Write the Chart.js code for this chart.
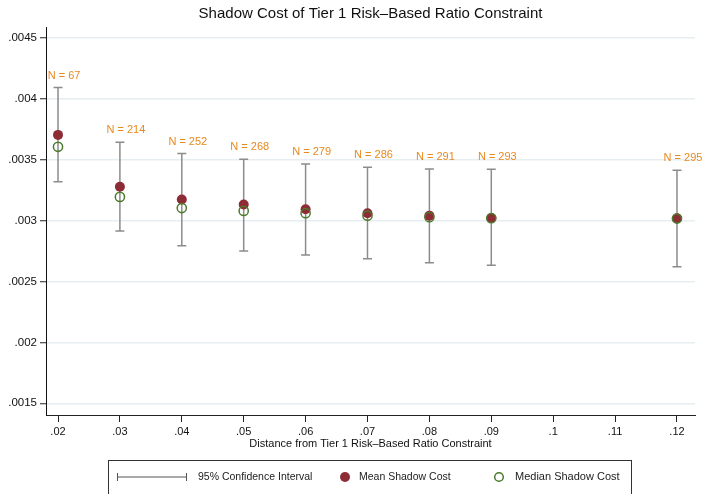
<!DOCTYPE html>
<html>
<head>
<meta charset="utf-8">
<script src="https://cdn.jsdelivr.net/npm/chart.js@4.4.1/dist/chart.umd.min.js"></script>
<style>
  html, body { margin: 0; padding: 0; background: #ffffff; }
  #wrap { width: 704px; height: 494px; }
</style>
</head>
<body>
<div id="wrap"><canvas id="chart" width="704" height="494"></canvas></div>
<script>
// Distance from the Tier 1 risk-based ratio constraint (bin centres)
const distance   = [0.02, 0.03, 0.04, 0.05, 0.06, 0.07, 0.08, 0.09, 0.12];
// Shadow cost statistics for each bin
const meanCost   = [0.003704, 0.003278, 0.003173, 0.003132, 0.003094, 0.003061, 0.003041, 0.003022, 0.003020];
const medianCost = [0.003606, 0.003195, 0.003103, 0.003080, 0.003061, 0.003041, 0.003028, 0.003020, 0.003017];
const ciLow      = [0.003319, 0.002915, 0.002793, 0.002751, 0.002718, 0.002688, 0.002655, 0.002634, 0.002622];
const ciHigh     = [0.004093, 0.003644, 0.003551, 0.003505, 0.003466, 0.003438, 0.003424, 0.003422, 0.003414];
const nObs       = [67, 214, 252, 268, 279, 286, 291, 293, 295];
// Axis ticks
const xTicks = [0.02, 0.03, 0.04, 0.05, 0.06, 0.07, 0.08, 0.09, 0.10, 0.11, 0.12];
const yTicks = [0.0015, 0.002, 0.0025, 0.003, 0.0035, 0.004, 0.0045];

const FONT = "'Liberation Sans', Arial, Helvetica, sans-serif";
const MEAN_COLOR = '#8e2c36';
const MEDIAN_COLOR = '#4b7a2b';
const CI_COLOR = '#8c8c8c';
const LABEL_COLOR = '#e8891e';

// Strip the leading zero the way the axis labels are written: .0045, .1
function fmt(v, digits) {
  let s = v.toFixed(digits).replace(/0+$/, '').replace(/\.$/, '');
  return s.replace(/^0\./, '.');
}

const meanPoints = distance.map((d, i) => ({ x: d, y: meanCost[i] }));
const medianPoints = distance.map((d, i) => ({ x: d, y: medianCost[i] }));

// Confidence interval bars and sample-size labels, placed with the chart's scales
const intervalPlugin = {
  id: 'intervals',
  beforeDatasetsDraw(chart) {
    const { ctx, scales: { x, y } } = chart;
    ctx.save();
    ctx.strokeStyle = CI_COLOR;
    ctx.lineWidth = 1.5;
    distance.forEach((d, i) => {
      const px = x.getPixelForValue(d);
      const top = y.getPixelForValue(ciHigh[i]);
      const bot = y.getPixelForValue(ciLow[i]);
      ctx.beginPath();
      ctx.moveTo(px, top); ctx.lineTo(px, bot);
      ctx.moveTo(px - 4.5, top); ctx.lineTo(px + 4.5, top);
      ctx.moveTo(px - 4.5, bot); ctx.lineTo(px + 4.5, bot);
      ctx.stroke();
    });
    ctx.restore();
  },
  afterDatasetsDraw(chart) {
    const { ctx, scales: { x, y } } = chart;
    ctx.save();
    ctx.fillStyle = LABEL_COLOR;
    ctx.font = '11px ' + FONT;
    ctx.textAlign = 'center';
    ctx.textBaseline = 'middle';
    distance.forEach((d, i) => {
      const px = x.getPixelForValue(d);
      const top = y.getPixelForValue(ciHigh[i]);
      ctx.fillText('N = ' + nObs[i], px + 6, top - 12);
    });
    ctx.restore();
  }
};

// Boxed key below the axis title
const keyPlugin = {
  id: 'keyBox',
  afterDraw(chart) {
    const { ctx } = chart;
    ctx.save();
    ctx.strokeStyle = '#333333';
    ctx.lineWidth = 1;
    ctx.strokeRect(108.5, 460.5, 523, 40);
    const cy = 477;
    // interval symbol
    ctx.strokeStyle = '#555555';
    ctx.beginPath();
    ctx.moveTo(117, cy); ctx.lineTo(187, cy);
    ctx.moveTo(117.5, cy - 4); ctx.lineTo(117.5, cy + 4);
    ctx.moveTo(186.5, cy - 4); ctx.lineTo(186.5, cy + 4);
    ctx.stroke();
    // mean marker
    ctx.fillStyle = MEAN_COLOR;
    ctx.beginPath(); ctx.arc(345, cy, 5, 0, Math.PI * 2); ctx.fill();
    // median marker
    ctx.strokeStyle = MEDIAN_COLOR;
    ctx.lineWidth = 1.5;
    ctx.beginPath(); ctx.arc(499, cy, 4.3, 0, Math.PI * 2); ctx.stroke();
    // texts
    ctx.fillStyle = '#222222';
    ctx.font = '10.5px ' + FONT;
    ctx.textAlign = 'left';
    ctx.textBaseline = 'middle';
    ctx.fillText('95% Confidence Interval', 198, cy);
    ctx.fillText('Mean Shadow Cost', 359, cy);
    ctx.font = '11px ' + FONT;
    ctx.fillText('Median Shadow Cost', 515, cy);
    ctx.restore();
  }
};

new Chart(document.getElementById('chart'), {
  type: 'scatter',
  data: {
    datasets: [
      {
        label: 'Mean Shadow Cost',
        data: meanPoints,
        order: 2,
        pointStyle: 'circle',
        pointRadius: 5,
        pointBackgroundColor: MEAN_COLOR,
        pointBorderWidth: 0,
        showLine: false
      },
      {
        label: 'Median Shadow Cost',
        data: medianPoints,
        order: 1,
        pointStyle: 'circle',
        pointRadius: 4.6,
        pointBackgroundColor: 'rgba(0,0,0,0)',
        pointBorderColor: MEDIAN_COLOR,
        pointBorderWidth: 1.5,
        showLine: false
      }
    ]
  },
  options: {
    responsive: false,
    animation: false,
    events: [],
    layout: { padding: { left: 0, right: 9, top: 0, bottom: 41 } },
    plugins: {
      legend: { display: false },
      tooltip: { enabled: false },
      title: {
        display: true,
        text: 'Shadow Cost of Tier 1 Risk\u2013Based Ratio Constraint',
        fullSize: false,
        color: '#111111',
        font: { family: FONT, size: 15, weight: 'normal' },
        padding: { top: 5, bottom: 4 }
      }
    },
    scales: {
      x: {
        type: 'linear',
        min: 0.01806,
        max: 0.12291,
        offset: false,
        afterBuildTicks(scale) { scale.ticks = xTicks.map(v => ({ value: v })); },
        afterFit(scale) { scale.height = 38; },
        border: { display: true, color: '#222222', width: 1 },
        grid: { display: true, drawOnChartArea: false, drawTicks: true, tickLength: 7, tickColor: '#222222', tickWidth: 1 },
        ticks: {
          autoSkip: false,
          maxRotation: 0,
          padding: 3,
          color: '#111111',
          font: { family: FONT, size: 11 },
          callback: (v) => fmt(v, 2)
        },
        title: {
          display: true,
          text: 'Distance from Tier 1 Risk\u2013Based Ratio Constraint',
          color: '#111111',
          font: { family: FONT, size: 11 },
          padding: { top: 0, bottom: 2 }
        }
      },
      y: {
        type: 'linear',
        min: 0.001404,
        max: 0.00459,
        afterBuildTicks(scale) { scale.ticks = yTicks.map(v => ({ value: v })); },
        afterFit(scale) { scale.width = 46; },
        border: { display: true, color: '#111111', width: 1 },
        grid: { display: true, drawOnChartArea: true, color: '#e6eef2', lineWidth: 1.5, drawTicks: true, tickLength: 6, tickColor: '#222222', tickWidth: 1 },
        ticks: {
          autoSkip: false,
          padding: 3,
          color: '#111111',
          font: { family: FONT, size: 11.5 },
          callback: (v) => fmt(v, 4)
        }
      }
    }
  },
  plugins: [intervalPlugin, keyPlugin]
});
</script>
</body>
</html>
